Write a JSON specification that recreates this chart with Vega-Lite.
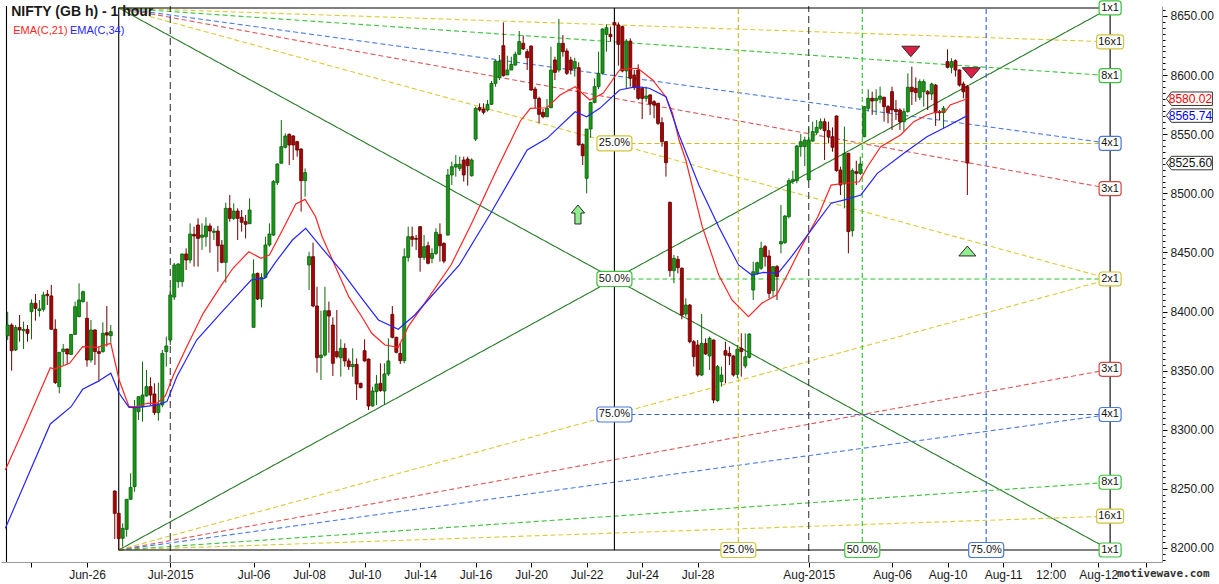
{
"$schema": "https://vega.github.io/schema/vega-lite/v6.json",
"width": 1161, "height": 556,
"autosize": {"type": "none"},
"padding": {"left": 1, "top": 6, "right": 57, "bottom": 22},
"background": "white",
"view": {"stroke": null},
"datasets": {
"candles": [
{"n":-6,"o":8379.6,"h":8399.9,"l":8375.9,"c":8388.6},{"n":-5,"o":8388.6,"h":8390,"l":8350.0,"c":8366.9},{"n":-4,"o":8367.5,"h":8388.6,"l":8366.6,"c":8386.6},{"n":-3,"o":8386.6,"h":8397.1,"l":8374.5,"c":8384.4},{"n":-2,"o":8383.8,"h":8391.4,"l":8368.3,"c":8384.9},{"n":-1,"o":8384.9,"h":8388.6,"l":8374.5,"c":8381.6},
{"n":0,"o":8399.9,"h":8410.3,"l":8376.5,"c":8407.0},{"n":1,"o":8407.0,"h":8414.9,"l":8392.3,"c":8402.7},{"n":2,"o":8400.8,"h":8409.8,"l":8395.7,"c":8402.2},{"n":3,"o":8401.9,"h":8416.8,"l":8399.9,"c":8414.0},{"n":4,"o":8414.6,"h":8418.2,"l":8405.5,"c":8413.4},{"n":5,"o":8413.2,"h":8422.5,"l":8384.4,"c":8385.0},{"n":6,"o":8385.0,"h":8393.4,"l":8338.7,"c":8339.9},
{"n":7,"o":8336.5,"h":8365.5,"l":8330.8,"c":8365.5},{"n":8,"o":8366.1,"h":8372.6,"l":8354.8,"c":8368.3},{"n":9,"o":8368.3,"h":8368.8,"l":8355.7,"c":8364.1},{"n":10,"o":8363.8,"h":8380.7,"l":8363.2,"c":8380.7},{"n":11,"o":8380.7,"h":8408.4,"l":8380.2,"c":8404.1},{"n":12,"o":8395.7,"h":8423.9,"l":8395.1,"c":8409.8},{"n":13,"o":8408.4,"h":8417.7,"l":8407.5,"c":8416.8},
{"n":14,"o":8394.3,"h":8408.4,"l":8353.4,"c":8359.0},{"n":15,"o":8359.0,"h":8392.9,"l":8356.8,"c":8384.4},{"n":16,"o":8384.4,"h":8385.0,"l":8354.8,"c":8366.1},{"n":17,"o":8366.1,"h":8370.3,"l":8340.7,"c":8364.6},{"n":18,"o":8366.1,"h":8390.9,"l":8365.2,"c":8381.6},{"n":19,"o":8382.1,"h":8404.7,"l":8370.3,"c":8380.1},{"n":20,"o":8379.6,"h":8388.6,"l":8373.7,"c":8383.0},
{"n":21,"o":8248.2,"h":8248.8,"l":8207.6,"c":8229.3},{"n":22,"o":8229.3,"h":8229.8,"l":8199.0,"c":8208.0},{"n":23,"o":8208.2,"h":8220.9,"l":8201.1,"c":8216.6},{"n":24,"o":8215.8,"h":8241.2,"l":8209.6,"c":8241.2},{"n":25,"o":8241.2,"h":8263.2,"l":8240.6,"c":8251.3},{"n":26,"o":8251.9,"h":8325.2,"l":8247.6,"c":8319.5},{"n":27,"o":8315.3,"h":8328.0,"l":8308.3,"c":8328.0},
{"n":28,"o":8319.5,"h":8357.6,"l":8306.9,"c":8329.4},{"n":29,"o":8328.6,"h":8350.6,"l":8328.0,"c":8336.5},{"n":30,"o":8336.5,"h":8344.4,"l":8321.0,"c":8329.4},{"n":31,"o":8330.3,"h":8339.3,"l":8312.5,"c":8314.5},{"n":32,"o":8314.5,"h":8339.9,"l":8307.7,"c":8321.0},{"n":33,"o":8321.0,"h":8367.5,"l":8319.0,"c":8364.6},{"n":34,"o":8366.1,"h":8378.8,"l":8353.4,"c":8370.9},
{"n":35,"o":8375.9,"h":8421.6,"l":8371.7,"c":8414.0},{"n":36,"o":8412.3,"h":8441.1,"l":8409.8,"c":8439.4},{"n":37,"o":8425.3,"h":8441,"l":8420,"c":8440.2},{"n":38,"o":8425.3,"h":8449,"l":8421,"c":8448.7},{"n":39,"o":8448.7,"h":8453.5,"l":8435.1,"c":8443.6},{"n":40,"o":8443.6,"h":8474.6,"l":8440.8,"c":8465.6},{"n":41,"o":8465.3,"h":8471.8,"l":8438.0,"c":8463.9},
{"n":42,"o":8473.2,"h":8478.8,"l":8438.0,"c":8461.9},{"n":43,"o":8462.8,"h":8474.6,"l":8452.1,"c":8464.7},{"n":44,"o":8463.3,"h":8479.7,"l":8454.9,"c":8472.4},{"n":45,"o":8472.4,"h":8474.6,"l":8449.8,"c":8468.1},{"n":46,"o":8467.0,"h":8470.4,"l":8460.5,"c":8468.1},{"n":47,"o":8468.1,"h":8472.4,"l":8433.7,"c":8455.7},{"n":48,"o":8456.3,"h":8460.5,"l":8440.8,"c":8441.6},
{"n":49,"o":8441.6,"h":8492.1,"l":8424.4,"c":8487.3},{"n":50,"o":8487.3,"h":8498.6,"l":8476.0,"c":8478.8},{"n":51,"o":8478.8,"h":8491.5,"l":8477.4,"c":8485.0},{"n":52,"o":8485.0,"h":8487.3,"l":8460.5,"c":8478.8},{"n":53,"o":8479.7,"h":8485.9,"l":8467.6,"c":8475.5},{"n":54,"o":8476.0,"h":8481.7,"l":8461.9,"c":8473.8},{"n":55,"o":8474.3,"h":8495.8,"l":8474.0,"c":8485.9},
{"n":56,"o":8386.6,"h":8444.2,"l":8386.6,"c":8431.8},{"n":57,"o":8432.3,"h":8432.9,"l":8409.8,"c":8410.6},{"n":58,"o":8410.6,"h":8432.3,"l":8403.6,"c":8428.9},{"n":59,"o":8428.9,"h":8463.3,"l":8428.1,"c":8456.3},{"n":60,"o":8456.3,"h":8474.6,"l":8454.9,"c":8465.6},{"n":61,"o":8464.7,"h":8511.3,"l":8463.9,"c":8509.9},{"n":62,"o":8509.0,"h":8525.4,"l":8507.0,"c":8524.8},
{"n":63,"o":8525.4,"h":8562.0,"l":8525.4,"c":8539.5},{"n":64,"o":8538.9,"h":8550.7,"l":8538.0,"c":8548.5},{"n":65,"o":8549.9,"h":8550.7,"l":8524.0,"c":8540.9},{"n":66,"o":8548.5,"h":8549.3,"l":8528.2,"c":8540.9},{"n":67,"o":8543.7,"h":8544.5,"l":8531.0,"c":8536.6},{"n":68,"o":8537.5,"h":8538.0,"l":8484.5,"c":8510.7},{"n":69,"o":8510.7,"h":8521.1,"l":8497.2,"c":8517.5},
{"n":70,"o":8439.4,"h":8450.6,"l":8418.2,"c":8446.4},{"n":71,"o":8446.4,"h":8458.3,"l":8403.6,"c":8404.7},{"n":72,"o":8404.7,"h":8421.0,"l":8348.3,"c":8361.0},{"n":73,"o":8361.0,"h":8400.7,"l":8342.1,"c":8363.2},{"n":74,"o":8363.2,"h":8421.0,"l":8361.8,"c":8400.7},{"n":75,"o":8400.7,"h":8408.4,"l":8365.2,"c":8396.2},{"n":76,"o":8388.6,"h":8395.1,"l":8345.5,"c":8356.2},
{"n":77,"o":8366.1,"h":8401.3,"l":8360.4,"c":8361.8},{"n":78,"o":8361.0,"h":8376.5,"l":8344.9,"c":8368.9},{"n":79,"o":8368.9,"h":8373.1,"l":8353.4,"c":8358.2},{"n":80,"o":8358.2,"h":8360.4,"l":8350.6,"c":8353.4},{"n":81,"o":8353.4,"h":8368.9,"l":8344.9,"c":8355.3},{"n":82,"o":8355.3,"h":8360.4,"l":8325.2,"c":8338.7},{"n":83,"o":8339.3,"h":8339.8,"l":8335.0,"c":8335.6},
{"n":84,"o":8366.9,"h":8376.5,"l":8357.6,"c":8358.2},{"n":85,"o":8359.8,"h":8360.3,"l":8316.7,"c":8320.1},{"n":86,"o":8320.1,"h":8336.4,"l":8319.6,"c":8332.8},{"n":87,"o":8332.2,"h":8346.3,"l":8321.0,"c":8338.7},{"n":88,"o":8339.3,"h":8356.2,"l":8332.2,"c":8333.1},{"n":89,"o":8332.8,"h":8356.2,"l":8321.0,"c":8347.2},{"n":90,"o":8347.2,"h":8377.3,"l":8345.5,"c":8358.2},
{"n":91,"o":8397.6,"h":8404.7,"l":8377.3,"c":8378.2},{"n":92,"o":8378.2,"h":8378.7,"l":8364.6,"c":8365.5},{"n":93,"o":8364.6,"h":8373.1,"l":8355.6,"c":8358.4},{"n":94,"o":8358.4,"h":8453.5,"l":8356.2,"c":8446.4},{"n":95,"o":8445.8,"h":8471.8,"l":8442.2,"c":8463.3},{"n":96,"o":8463.3,"h":8471.8,"l":8454.9,"c":8461.1},{"n":97,"o":8461.9,"h":8464.7,"l":8452.1,"c":8461.1},
{"n":98,"o":8471.8,"h":8472.3,"l":8433.7,"c":8445.8},{"n":99,"o":8445.8,"h":8464.7,"l":8443.6,"c":8454.9},{"n":100,"o":8455.7,"h":8459.1,"l":8439.9,"c":8440.8},{"n":101,"o":8445.0,"h":8453.5,"l":8440.8,"c":8449.2},{"n":102,"o":8449.2,"h":8470.4,"l":8447.8,"c":8467.0},{"n":103,"o":8465.3,"h":8474.6,"l":8442.2,"c":8455.7},{"n":104,"o":8457.7,"h":8458.5,"l":8440.8,"c":8442.7},
{"n":105,"o":8464.7,"h":8520.6,"l":8464.2,"c":8515.5},{"n":106,"o":8515.5,"h":8526.8,"l":8507.0,"c":8522.5},{"n":107,"o":8522.2,"h":8532.4,"l":8514.1,"c":8524.5},{"n":108,"o":8521.1,"h":8531.0,"l":8518.9,"c":8524.5},{"n":109,"o":8528.2,"h":8531.0,"l":8509.9,"c":8515.5},{"n":110,"o":8529.0,"h":8531.0,"l":8506.5,"c":8523.4},{"n":111,"o":8514.9,"h":8529.6,"l":8514.1,"c":8528.2},
{"n":112,"o":8545.9,"h":8573.3,"l":8544.3,"c":8571.9},{"n":113,"o":8572.5,"h":8576.1,"l":8569.1,"c":8570.5},{"n":114,"o":8571.3,"h":8576.1,"l":8566.8,"c":8568.5},{"n":115,"o":8570.5,"h":8578.9,"l":8569.1,"c":8575.3},{"n":116,"o":8575.3,"h":8595.0,"l":8574.7,"c":8593.0},{"n":117,"o":8593.0,"h":8612.8,"l":8590.2,"c":8611.9},{"n":118,"o":8597.8,"h":8617.0,"l":8595.8,"c":8611.9},
{"n":119,"o":8624.9,"h":8644.6,"l":8598.7,"c":8599.5},{"n":120,"o":8600.1,"h":8616.4,"l":8600.1,"c":8604.3},{"n":121,"o":8604.3,"h":8615.6,"l":8604.3,"c":8609.1},{"n":122,"o":8608.5,"h":8619.8,"l":8608.0,"c":8617.6},{"n":123,"o":8617.6,"h":8637.3,"l":8617.0,"c":8628.3},{"n":124,"o":8626.9,"h":8633.4,"l":8621.2,"c":8622.1},{"n":125,"o":8619.8,"h":8622.1,"l":8604.3,"c":8614.7},
{"n":126,"o":8624.6,"h":8625.1,"l":8586.6,"c":8587.4},{"n":127,"o":8588.2,"h":8590.2,"l":8571.9,"c":8580.3},{"n":128,"o":8580.3,"h":8581.8,"l":8559.2,"c":8566.8},{"n":129,"o":8568.5,"h":8571.3,"l":8563.4,"c":8564.8},{"n":130,"o":8564.8,"h":8579.8,"l":8564.3,"c":8571.9},{"n":131,"o":8572.5,"h":8624.0,"l":8571.9,"c":8604.3},{"n":132,"o":8612.8,"h":8615.6,"l":8595.8,"c":8602.3},
{"n":133,"o":8604.3,"h":8647.5,"l":8602.3,"c":8626.9},{"n":134,"o":8626.9,"h":8633.9,"l":8615.6,"c":8619.8},{"n":135,"o":8620.4,"h":8622.6,"l":8600.1,"c":8601.5},{"n":136,"o":8612.8,"h":8615.6,"l":8600.6,"c":8604.3},{"n":137,"o":8605.7,"h":8614.7,"l":8598.7,"c":8611.4},{"n":138,"o":8606.3,"h":8610.8,"l":8540.3,"c":8540.9},{"n":139,"o":8541.4,"h":8542.3,"l":8524.0,"c":8531.8},
{"n":140,"o":8512.7,"h":8554.4,"l":8500.0,"c":8554.4},{"n":141,"o":8554.4,"h":8577.4,"l":8547.1,"c":8576.9},{"n":142,"o":8576.9,"h":8597.3,"l":8576.1,"c":8590.2},{"n":143,"o":8590.2,"h":8619.8,"l":8588.2,"c":8601.5},{"n":144,"o":8601.5,"h":8639.5,"l":8600.6,"c":8639.0},{"n":145,"o":8634.5,"h":8642.9,"l":8619.8,"c":8640.1},{"n":146,"o":8634.5,"h":8641.0,"l":8628.3,"c":8632.5},
{"n":147,"o":8644.6,"h":8645.8,"l":8639.6,"c":8642.4},{"n":148,"o":8642.4,"h":8644.6,"l":8608.0,"c":8626.0},{"n":149,"o":8641.0,"h":8641.8,"l":8602.3,"c":8603.5},{"n":150,"o":8603.5,"h":8630.5,"l":8588.8,"c":8628.8},{"n":151,"o":8628.8,"h":8631.1,"l":8590.2,"c":8597.3},{"n":152,"o":8600.1,"h":8604.3,"l":8587.4,"c":8589.4},{"n":153,"o":8604.3,"h":8609.1,"l":8578.9,"c":8580.3},
{"n":154,"o":8588.8,"h":8590.2,"l":8562.8,"c":8580.3},{"n":155,"o":8580.4,"h":8590.2,"l":8577.5,"c":8582.3},{"n":156,"o":8583.2,"h":8583.7,"l":8566.3,"c":8575.6},{"n":157,"o":8577.5,"h":8578.9,"l":8563.4,"c":8574.7},{"n":158,"o":8576.1,"h":8576.6,"l":8557.8,"c":8559.2},{"n":159,"o":8559.8,"h":8564.3,"l":8539.5,"c":8543.7},{"n":160,"o":8543.7,"h":8544.2,"l":8514.1,"c":8525.9},
{"n":161,"o":8492.4,"h":8492.9,"l":8429.5,"c":8434.6},{"n":162,"o":8434.6,"h":8447.8,"l":8423.9,"c":8445.0},{"n":163,"o":8444.2,"h":8447.0,"l":8432.3,"c":8437.1},{"n":164,"o":8436.6,"h":8437.4,"l":8393.4,"c":8397.1},{"n":165,"o":8397.9,"h":8411.2,"l":8395.7,"c":8405.5},{"n":166,"o":8405.5,"h":8406.4,"l":8373.1,"c":8374.5},{"n":167,"o":8374.5,"h":8375.9,"l":8353.4,"c":8361.8},
{"n":168,"o":8371.7,"h":8375.9,"l":8344.9,"c":8346.3},{"n":169,"o":8346.3,"h":8397.9,"l":8345.5,"c":8373.1},{"n":170,"o":8373.1,"h":8377.3,"l":8363.3,"c":8364.1},{"n":171,"o":8362.4,"h":8378.8,"l":8350.6,"c":8377.3},{"n":172,"o":8375.9,"h":8376.4,"l":8322.4,"c":8325.2},{"n":173,"o":8324.6,"h":8354.8,"l":8323.8,"c":8353.4},{"n":174,"o":8340.7,"h":8353.4,"l":8336.5,"c":8346.3},
{"n":175,"o":8366.9,"h":8374.5,"l":8339.3,"c":8363.1},{"n":176,"o":8364.6,"h":8370.3,"l":8354.8,"c":8362.4},{"n":177,"o":8362.4,"h":8363.3,"l":8344.9,"c":8346.3},{"n":178,"o":8346.9,"h":8371.7,"l":8343.5,"c":8368.0},{"n":179,"o":8368.9,"h":8381.6,"l":8344.9,"c":8366.1},{"n":180,"o":8353.9,"h":8381.6,"l":8352.0,"c":8361.8},{"n":181,"o":8361.3,"h":8381.6,"l":8360.4,"c":8381.0},
{"n":182,"o":8418.2,"h":8442.2,"l":8409.8,"c":8433.7},{"n":183,"o":8432.3,"h":8442.2,"l":8430.9,"c":8441.3},{"n":184,"o":8436.6,"h":8459.1,"l":8435.2,"c":8453.5},{"n":185,"o":8454.9,"h":8456.3,"l":8438.0,"c":8446.4},{"n":186,"o":8447.0,"h":8452.1,"l":8411.2,"c":8415.4},{"n":187,"o":8417.7,"h":8438.5,"l":8412.6,"c":8438.0},{"n":188,"o":8438.0,"h":8439.4,"l":8409.8,"c":8429.5},
{"n":189,"o":8457.2,"h":8490.1,"l":8449.2,"c":8459.1},{"n":190,"o":8458.3,"h":8481.7,"l":8457.2,"c":8480.8},{"n":191,"o":8480.3,"h":8512.7,"l":8478.9,"c":8510.7},{"n":192,"o":8509.9,"h":8519.2,"l":8507.9,"c":8511.8},{"n":193,"o":8510.7,"h":8540.9,"l":8508.5,"c":8540.0},{"n":194,"o":8539.5,"h":8550.2,"l":8531.0,"c":8543.7},{"n":195,"o":8539.5,"h":8547.9,"l":8523.1,"c":8545.1},
{"n":196,"o":8511.3,"h":8555.8,"l":8509.9,"c":8545.1},{"n":197,"o":8544.2,"h":8560.6,"l":8543.7,"c":8552.2},{"n":198,"o":8551.3,"h":8562.0,"l":8549.3,"c":8555.8},{"n":199,"o":8555.0,"h":8563.4,"l":8553.6,"c":8560.6},{"n":200,"o":8560.6,"h":8563.4,"l":8528.2,"c":8553.0},{"n":201,"o":8553.0,"h":8560.6,"l":8542.3,"c":8547.9},{"n":202,"o":8547.9,"h":8555.8,"l":8535.2,"c":8538.9},
{"n":203,"o":8565.4,"h":8565.9,"l":8518.3,"c":8519.2},{"n":204,"o":8519.7,"h":8522.6,"l":8498.6,"c":8507.0},{"n":205,"o":8507.9,"h":8556.4,"l":8487.3,"c":8533.8},{"n":206,"o":8533.8,"h":8534.3,"l":8449.2,"c":8467.6},{"n":207,"o":8468.4,"h":8521.1,"l":8463.4,"c":8519.2},{"n":208,"o":8518.3,"h":8527.6,"l":8507.0,"c":8516.9},{"n":209,"o":8516.9,"h":8531.0,"l":8515.5,"c":8524.8},
{"n":210,"o":8547.9,"h":8573.8,"l":8547.4,"c":8573.3},{"n":211,"o":8571.9,"h":8588.0,"l":8569.1,"c":8580.4},{"n":212,"o":8580.4,"h":8586.0,"l":8566.3,"c":8578.1},{"n":213,"o":8578.4,"h":8588.0,"l":8566.3,"c":8580.4},{"n":214,"o":8579.5,"h":8590.2,"l":8576.1,"c":8582.3},{"n":215,"o":8581.2,"h":8581.8,"l":8560.6,"c":8573.3},{"n":216,"o":8573.3,"h":8574.7,"l":8559.2,"c":8568.2},
{"n":217,"o":8586.0,"h":8590.2,"l":8553.6,"c":8570.5},{"n":218,"o":8571.0,"h":8578.9,"l":8562.0,"c":8569.1},{"n":219,"o":8570.5,"h":8571.9,"l":8553.6,"c":8560.6},{"n":220,"o":8560.6,"h":8571.9,"l":8552.2,"c":8569.1},{"n":221,"o":8569.1,"h":8601.5,"l":8568.2,"c":8589.7},{"n":222,"o":8589.7,"h":8607.1,"l":8574.7,"c":8586.0},{"n":223,"o":8588.8,"h":8598.1,"l":8577.5,"c":8585.2},
{"n":224,"o":8581.2,"h":8596.4,"l":8578.9,"c":8594.5},{"n":225,"o":8586.0,"h":8596.4,"l":8573.3,"c":8594.5},{"n":226,"o":8586.0,"h":8587.4,"l":8570.5,"c":8584.0},{"n":227,"o":8584.0,"h":8593.6,"l":8578.9,"c":8592.5},{"n":228,"o":8591.6,"h":8592.5,"l":8557.0,"c":8568.2},{"n":229,"o":8569.1,"h":8570.5,"l":8562.0,"c":8568.2},{"n":230,"o":8568.2,"h":8573.9,"l":8555.0,"c":8571.9},
{"n":231,"o":8611.4,"h":8621.8,"l":8605.7,"c":8606.6},{"n":232,"o":8606.6,"h":8614.2,"l":8601.5,"c":8611.4},{"n":233,"o":8612.2,"h":8613.3,"l":8598.7,"c":8604.3},{"n":234,"o":8604.3,"h":8604.9,"l":8590.2,"c":8591.6},{"n":235,"o":8592.5,"h":8594.5,"l":8580.4,"c":8586.0},{"n":236,"o":8590.2,"h":8591.6,"l":8498.6,"c":8525.6}
],
"ema": [
{"series":"EMA(C,21)","n":-6.6,"p":8266.0},{"series":"EMA(C,21)","n":-1.7,"p":8302.6},{"series":"EMA(C,21)","n":4.75,"p":8352.5},{"series":"EMA(C,21)","n":5.8,"p":8351.4},{"series":"EMA(C,21)","n":9.6,"p":8356.2},{"series":"EMA(C,21)","n":12.9,"p":8370.3},{"series":"EMA(C,21)","n":16.65,"p":8369.8},{"series":"EMA(C,21)","n":20,"p":8373.1},{"series":"EMA(C,21)","n":22.1,"p":8342.1},{"series":"EMA(C,21)","n":24.6,"p":8319.5},{"series":"EMA(C,21)","n":26.65,"p":8319.5},{"series":"EMA(C,21)","n":29.15,"p":8322.4},{"series":"EMA(C,21)","n":31.65,"p":8322.4},{"series":"EMA(C,21)","n":33.75,"p":8328.6},{"series":"EMA(C,21)","n":35.8,"p":8346.3},{"series":"EMA(C,21)","n":39.15,"p":8370.3},{"series":"EMA(C,21)","n":43.3,"p":8398.5},{"series":"EMA(C,21)","n":47.9,"p":8422.4},{"series":"EMA(C,21)","n":50.8,"p":8436.6},{"series":"EMA(C,21)","n":54.8,"p":8450.6},{"series":"EMA(C,21)","n":57.9,"p":8445.0},{"series":"EMA(C,21)","n":60,"p":8447.8},{"series":"EMA(C,21)","n":63.3,"p":8469.0},{"series":"EMA(C,21)","n":66.65,"p":8491.0},{"series":"EMA(C,21)","n":69,"p":8494.9},{"series":"EMA(C,21)","n":71.65,"p":8480.2},{"series":"EMA(C,21)","n":73.3,"p":8463.3},{"series":"EMA(C,21)","n":76.65,"p":8437.9},{"series":"EMA(C,21)","n":80,"p":8412.6},{"series":"EMA(C,21)","n":83.3,"p":8395.6},{"series":"EMA(C,21)","n":85.8,"p":8381.6},{"series":"EMA(C,21)","n":89.15,"p":8371.7},{"series":"EMA(C,21)","n":92.5,"p":8369.8},{"series":"EMA(C,21)","n":95,"p":8387.2},{"series":"EMA(C,21)","n":99.6,"p":8409.2},{"series":"EMA(C,21)","n":105.8,"p":8439.4},{"series":"EMA(C,21)","n":110.8,"p":8473.2},{"series":"EMA(C,21)","n":117.5,"p":8521.2},{"series":"EMA(C,21)","n":123.3,"p":8561.2},{"series":"EMA(C,21)","n":125.8,"p":8571.9},{"series":"EMA(C,21)","n":130,"p":8572.4},{"series":"EMA(C,21)","n":133.3,"p":8583.2},{"series":"EMA(C,21)","n":137.1,"p":8590.2},{"series":"EMA(C,21)","n":140.8,"p":8578.9},{"series":"EMA(C,21)","n":144.15,"p":8584.6},{"series":"EMA(C,21)","n":148.3,"p":8604.3},{"series":"EMA(C,21)","n":150.4,"p":8605.2},{"series":"EMA(C,21)","n":152.9,"p":8605.8},{"series":"EMA(C,21)","n":156.65,"p":8595.9},{"series":"EMA(C,21)","n":160,"p":8581.5},{"series":"EMA(C,21)","n":161.65,"p":8567.7},{"series":"EMA(C,21)","n":163.3,"p":8545.1},{"series":"EMA(C,21)","n":165,"p":8528.2},{"series":"EMA(C,21)","n":166.65,"p":8505.6},{"series":"EMA(C,21)","n":169.15,"p":8471.8},{"series":"EMA(C,21)","n":173.3,"p":8430.9},{"series":"EMA(C,21)","n":176.65,"p":8409.8},{"series":"EMA(C,21)","n":180.8,"p":8395.6},{"series":"EMA(C,21)","n":184.15,"p":8407.0},{"series":"EMA(C,21)","n":187.9,"p":8414.0},{"series":"EMA(C,21)","n":190.8,"p":8432.4},{"series":"EMA(C,21)","n":194.15,"p":8454.9},{"series":"EMA(C,21)","n":198.3,"p":8480.2},{"series":"EMA(C,21)","n":201.65,"p":8507.0},{"series":"EMA(C,21)","n":205,"p":8508.5},{"series":"EMA(C,21)","n":208.75,"p":8509.8},{"series":"EMA(C,21)","n":210.8,"p":8522.5},{"series":"EMA(C,21)","n":214.15,"p":8539.4},{"series":"EMA(C,21)","n":219.15,"p":8549.3},{"series":"EMA(C,21)","n":222.5,"p":8560.6},{"series":"EMA(C,21)","n":225.8,"p":8566.3},{"series":"EMA(C,21)","n":228.3,"p":8569.0},{"series":"EMA(C,21)","n":230.4,"p":8569.0},{"series":"EMA(C,21)","n":231.65,"p":8574.7},{"series":"EMA(C,21)","n":236,"p":8580.0},
{"series":"EMA(C,34)","n":-6.6,"p":8216.6},{"series":"EMA(C,34)","n":4.75,"p":8304.9},{"series":"EMA(C,34)","n":10,"p":8319.5},{"series":"EMA(C,34)","n":12.9,"p":8334.2},{"series":"EMA(C,34)","n":16.65,"p":8340.7},{"series":"EMA(C,34)","n":20,"p":8347.8},{"series":"EMA(C,34)","n":22.1,"p":8330.9},{"series":"EMA(C,34)","n":24.6,"p":8319.0},{"series":"EMA(C,34)","n":26.65,"p":8318.7},{"series":"EMA(C,34)","n":31.65,"p":8321.0},{"series":"EMA(C,34)","n":34.15,"p":8323.8},{"series":"EMA(C,34)","n":36.65,"p":8344.9},{"series":"EMA(C,34)","n":41.65,"p":8375.9},{"series":"EMA(C,34)","n":48.3,"p":8400.7},{"series":"EMA(C,34)","n":55.4,"p":8426.7},{"series":"EMA(C,34)","n":58.75,"p":8428.1},{"series":"EMA(C,34)","n":61.65,"p":8442.2},{"series":"EMA(C,34)","n":65.8,"p":8460.5},{"series":"EMA(C,34)","n":69.15,"p":8470.4},{"series":"EMA(C,34)","n":73.3,"p":8453.5},{"series":"EMA(C,34)","n":78.3,"p":8433.7},{"series":"EMA(C,34)","n":83.3,"p":8411.2},{"series":"EMA(C,34)","n":87.5,"p":8392.9},{"series":"EMA(C,34)","n":92.5,"p":8385.0},{"series":"EMA(C,34)","n":96.65,"p":8397.1},{"series":"EMA(C,34)","n":99.6,"p":8408.3},{"series":"EMA(C,34)","n":107.9,"p":8439.4},{"series":"EMA(C,34)","n":115.8,"p":8483.1},{"series":"EMA(C,34)","n":125,"p":8536.6},{"series":"EMA(C,34)","n":130,"p":8546.5},{"series":"EMA(C,34)","n":137.1,"p":8569.0},{"series":"EMA(C,34)","n":140,"p":8564.8},{"series":"EMA(C,34)","n":143.3,"p":8571.9},{"series":"EMA(C,34)","n":148.3,"p":8587.4},{"series":"EMA(C,34)","n":152.5,"p":8590.2},{"series":"EMA(C,34)","n":155.8,"p":8588.9},{"series":"EMA(C,34)","n":160,"p":8581.7},{"series":"EMA(C,34)","n":163.3,"p":8549.3},{"series":"EMA(C,34)","n":168.3,"p":8507.0},{"series":"EMA(C,34)","n":173.3,"p":8471.8},{"series":"EMA(C,34)","n":178.3,"p":8439.4},{"series":"EMA(C,34)","n":181.65,"p":8430.9},{"series":"EMA(C,34)","n":184.6,"p":8433.2},{"series":"EMA(C,34)","n":188.3,"p":8432.4},{"series":"EMA(C,34)","n":191.65,"p":8446.4},{"series":"EMA(C,34)","n":196.65,"p":8469.0},{"series":"EMA(C,34)","n":201.65,"p":8491.6},{"series":"EMA(C,34)","n":205,"p":8494.4},{"series":"EMA(C,34)","n":209.15,"p":8498.6},{"series":"EMA(C,34)","n":213.3,"p":8516.9},{"series":"EMA(C,34)","n":220,"p":8533.9},{"series":"EMA(C,34)","n":225.8,"p":8547.9},{"series":"EMA(C,34)","n":230,"p":8555.0},{"series":"EMA(C,34)","n":236,"p":8565.7}
],
"lines": [
{"id":"t1","kind":"1x1","n":22,"p":8656.8},{"id":"t1","kind":"1x1","n":272,"p":8198.3},
{"id":"t2","kind":"2x1","n":22,"p":8656.8},{"id":"t2","kind":"2x1","n":272,"p":8427.55},
{"id":"t3","kind":"3x1","n":22,"p":8656.8},{"id":"t3","kind":"3x1","n":272,"p":8503.97},
{"id":"t4","kind":"4x1","n":22,"p":8656.8},{"id":"t4","kind":"4x1","n":272,"p":8542.18},
{"id":"t8","kind":"8x1","n":22,"p":8656.8},{"id":"t8","kind":"8x1","n":272,"p":8599.49},
{"id":"t16","kind":"16x1","n":22,"p":8656.8},{"id":"t16","kind":"16x1","n":272,"p":8628.14},
{"id":"b1","kind":"1x1","n":22,"p":8198.3},{"id":"b1","kind":"1x1","n":272,"p":8656.8},
{"id":"b2","kind":"2x1","n":22,"p":8198.3},{"id":"b2","kind":"2x1","n":272,"p":8427.55},
{"id":"b3","kind":"3x1","n":22,"p":8198.3},{"id":"b3","kind":"3x1","n":272,"p":8351.13},
{"id":"b4","kind":"4x1","n":22,"p":8198.3},{"id":"b4","kind":"4x1","n":272,"p":8312.93},
{"id":"b8","kind":"8x1","n":22,"p":8198.3},{"id":"b8","kind":"8x1","n":272,"p":8255.61},
{"id":"b16","kind":"16x1","n":22,"p":8198.3},{"id":"b16","kind":"16x1","n":272,"p":8226.96},
{"id":"h25","kind":"25%","n":147,"p":8542.18},{"id":"h25","kind":"25%","n":272,"p":8542.18},
{"id":"h50","kind":"50%","n":147,"p":8427.55},{"id":"h50","kind":"50%","n":272,"p":8427.55},
{"id":"h75","kind":"75%","n":147,"p":8312.93},{"id":"h75","kind":"75%","n":272,"p":8312.93},
{"id":"v25","kind":"25%","n":178.25,"p":8198.3},{"id":"v25","kind":"25%","n":178.25,"p":8656.8},
{"id":"v50","kind":"50%","n":209.5,"p":8198.3},{"id":"v50","kind":"50%","n":209.5,"p":8656.8},
{"id":"v75","kind":"75%","n":240.75,"p":8198.3},{"id":"v75","kind":"75%","n":240.75,"p":8656.8},
{"id":"m1","kind":"month","n":35,"p":8188.15},{"id":"m1","kind":"month","n":35,"p":8658.45},
{"id":"m2","kind":"month","n":196,"p":8188.15},{"id":"m2","kind":"month","n":196,"p":8658.45},
{"id":"bxt","kind":"box","n":22,"p":8656.8},{"id":"bxt","kind":"box","n":272,"p":8656.8},
{"id":"bxb","kind":"box","n":22,"p":8198.3},{"id":"bxb","kind":"box","n":272,"p":8198.3},
{"id":"bxl","kind":"box","n":22,"p":8198.3},{"id":"bxl","kind":"box","n":22,"p":8656.8},
{"id":"bxm","kind":"box","n":147,"p":8198.3},{"id":"bxm","kind":"box","n":147,"p":8656.8},
{"id":"bxr","kind":"box","n":272,"p":8198.3},{"id":"bxr","kind":"box","n":272,"p":8656.8},
{"id":"frame","kind":"box","n":-6.3,"p":8188.15},{"id":"frame","kind":"box","n":-6.3,"p":8658.45}
],
"labels": [
{"n":272,"p":8656.8,"label":"1x1"},{"n":272,"p":8628.14,"label":"16x1"},{"n":272,"p":8599.49,"label":"8x1"},{"n":272,"p":8542.18,"label":"4x1"},{"n":272,"p":8503.97,"label":"3x1"},{"n":272,"p":8427.55,"label":"2x1"},{"n":272,"p":8351.13,"label":"3x1"},{"n":272,"p":8312.93,"label":"4x1"},{"n":272,"p":8255.61,"label":"8x1"},{"n":272,"p":8226.96,"label":"16x1"},{"n":272,"p":8198.3,"label":"1x1"},
{"n":147,"p":8542.18,"label":"25.0%"},{"n":147,"p":8427.55,"label":"50.0%"},{"n":147,"p":8312.93,"label":"75.0%"},
{"n":178.25,"p":8198.3,"label":"25.0%"},{"n":209.5,"p":8198.3,"label":"50.0%"},{"n":240.75,"p":8198.3,"label":"75.0%"}
],
"markers": [
{"n":137.8,"p":8482.1,"type":"arrow_up"},{"n":221.75,"p":8620.0,"type":"tri_down"},{"n":237.0,"p":8601.8,"type":"tri_down"},{"n":236.0,"p":8451.2,"type":"tri_up"}
],
"tags": [
{"n":292,"p":8580.02,"label":"8580.02","who":"ema21"},{"n":292,"p":8565.74,"label":"8565.74","who":"ema34"},{"n":292,"p":8525.60,"label":"8525.60","who":"close"}
],
"heading": [
{"n":-5.1,"p":8649.6,"label":"NIFTY (GB h) - 1 hour"}
],
"legend_text": [
{"n":-4.6,"p":8637.7,"label":"EMA(C,21)","who":"ema21"},{"n":9.7,"p":8637.7,"label":"EMA(C,34)","who":"ema34"}
],
"mark_text": [
{"n":285.4,"p":8177.6,"label":"motivewave.com"}
]
},
"encoding": {
"x": {"field": "n", "type": "quantitative", "title": null,
 "scale": {"domain": [-6.425, 283.825], "nice": false, "zero": false},
 "axis": {"values": [0,14,35,56,70,84,98,112,126,140,154,168,196,217,231,245,257,269,281],
  "labelExpr": "datum.value==14?'Jun-26':datum.value==35?'Jul-2015':datum.value==56?'Jul-06':datum.value==70?'Jul-08':datum.value==84?'Jul-10':datum.value==98?'Jul-14':datum.value==112?'Jul-16':datum.value==126?'Jul-20':datum.value==140?'Jul-22':datum.value==154?'Jul-24':datum.value==168?'Jul-28':datum.value==196?'Aug-2015':datum.value==217?'Aug-06':datum.value==231?'Aug-10':datum.value==245?'Aug-11':datum.value==257?'12:00':datum.value==269?'Aug-12':''",
  "grid": false, "tickSize": 5, "tickColor": "#000", "domainColor": "#9a9a9a", "labelFont": "Liberation Sans", "labelFontSize": 12, "labelColor": "#1a1a1a", "labelPadding": 2, "labelOverlap": false, "labelBound": false, "labelFlush": false}},
"y": {"field": "p", "type": "quantitative", "title": null,
 "scale": {"domain": [8188.15, 8658.45], "nice": false, "zero": false},
 "axis": {"orient": "right", "values": [8190,8195,8200,8205,8210,8215,8220,8225,8230,8235,8240,8245,8250,8255,8260,8265,8270,8275,8280,8285,8290,8295,8300,8305,8310,8315,8320,8325,8330,8335,8340,8345,8350,8355,8360,8365,8370,8375,8380,8385,8390,8395,8400,8405,8410,8415,8420,8425,8430,8435,8440,8445,8450,8455,8460,8465,8470,8475,8480,8485,8490,8495,8500,8505,8510,8515,8520,8525,8530,8535,8540,8545,8550,8555,8560,8565,8570,8575,8580,8585,8590,8595,8600,8605,8610,8615,8620,8625,8630,8635,8640,8645,8650,8655],
  "labelExpr": "datum.value % 50 === 0 ? format(datum.value, '.2f') : ''",
  "tickSize": {"condition": {"test": "datum.value % 50 === 0", "value": 5}, "value": 3},
  "grid": false, "tickColor": "#000", "domainColor": "#9a9a9a", "labelFont": "Liberation Sans", "labelFontSize": 12, "labelColor": "#1a1a1a", "labelPadding": 3, "labelOverlap": false, "labelBound": false, "labelFlush": false, "labelAlign": "left", "labelBaseline": "middle"}}
},
"layer": [
{"data": {"name": "lines"}, "mark": {"type": "line", "strokeWidth": 1.1, "opacity": 1},
 "encoding": {
  "detail": {"field": "id"},
  "color": {"field": "kind", "type": "nominal", "legend": null, "scale": {"domain": ["1x1","2x1","3x1","4x1","8x1","16x1","25%","50%","75%","box","month"], "range": ["#267a26","#d6cb3a","#dc5a5a","#4d7ee0","#3cc23c","#d6cb3a","#d0bc14","#26c426","#3560d6","#000000","#3a3a3a"]}},
  "strokeDash": {"field": "kind", "type": "nominal", "legend": null, "scale": {"domain": ["1x1","2x1","3x1","4x1","8x1","16x1","25%","50%","75%","box","month"], "range": [[1,0],[5,3],[5,3],[5,3],[5,3],[5,3],[5,3],[5,3],[5,3],[1,0],[7,4]]}}
 }},
{"data": {"name": "candles"}, "mark": {"type": "rule", "strokeWidth": 1},
 "encoding": {
  "y": {"field": "l", "type": "quantitative", "title": null, "scale": {"domain": [8188.15, 8658.45], "nice": false, "zero": false}},
  "y2": {"field": "h"},
  "color": {"condition": {"test": "datum.c >= datum.o", "value": "#0b6a0b"}, "value": "#6e0000"}
 }},
{"data": {"name": "candles"}, "mark": {"type": "bar", "size": 3, "orient": "vertical", "strokeWidth": 0.8},
 "encoding": {
  "y": {"field": "o", "type": "quantitative", "title": null, "scale": {"domain": [8188.15, 8658.45], "nice": false, "zero": false}},
  "y2": {"field": "c"},
  "fill": {"condition": {"test": "datum.c >= datum.o", "value": "#169a16"}, "value": "#ad0000"},
  "stroke": {"condition": {"test": "datum.c >= datum.o", "value": "#0b5a0b"}, "value": "#5a0000"}
 }},
{"data": {"name": "ema"}, "mark": {"type": "line", "strokeWidth": 1.2},
 "encoding": {
  "color": {"field": "series", "type": "nominal", "legend": null, "scale": {"domain": ["EMA(C,21)","EMA(C,34)"], "range": ["#ff2424","#2424ff"]}}
 }},
{"data": {"name": "labels"}, "transform": [{"filter": "length(datum.label) == 3"}],
 "mark": {"type": "point", "shape": "M-0.73,-0.636L0.73,-0.636Q1,-0.636 1,-0.366L1,0.366Q1,0.636 0.73,0.636L-0.73,0.636Q-1,0.636 -1,0.366L-1,-0.366Q-1,-0.636 -0.73,-0.636Z", "size": 484, "fill": "white", "filled": false, "opacity": 1, "strokeWidth": 1.2},
 "encoding": {
  "stroke": {"field": "label", "type": "nominal", "legend": null, "scale": {"domain": ["1x1","2x1","3x1","4x1","8x1","16x1","25.0%","50.0%","75.0%"], "range": ["#3fc03f","#d0c43a","#d24848","#4a78d8","#3fc03f","#d0c43a","#d0c43a","#3fc03f","#4a78d8"]}}
 }},
{"data": {"name": "labels"}, "transform": [{"filter": "length(datum.label) == 4"}],
 "mark": {"type": "point", "shape": "M-0.778,-0.519L0.778,-0.519Q1,-0.519 1,-0.297L1,0.297Q1,0.519 0.778,0.519L-0.778,0.519Q-1,0.519 -1,0.297L-1,-0.297Q-1,-0.519 -0.778,-0.519Z", "size": 729, "fill": "white", "filled": false, "opacity": 1, "strokeWidth": 1.2},
 "encoding": {
  "stroke": {"field": "label", "type": "nominal", "legend": null, "scale": {"domain": ["1x1","2x1","3x1","4x1","8x1","16x1","25.0%","50.0%","75.0%"], "range": ["#3fc03f","#d0c43a","#d24848","#4a78d8","#3fc03f","#d0c43a","#d0c43a","#3fc03f","#4a78d8"]}}
 }},
{"data": {"name": "labels"}, "transform": [{"filter": "length(datum.label) == 5"}],
 "mark": {"type": "point", "shape": "M-0.829,-0.429L0.829,-0.429Q1,-0.429 1,-0.258L1,0.258Q1,0.429 0.829,0.429L-0.829,0.429Q-1,0.429 -1,0.258L-1,-0.258Q-1,-0.429 -0.829,-0.429Z", "size": 1225, "fill": "white", "filled": false, "opacity": 1, "strokeWidth": 1.2},
 "encoding": {
  "stroke": {"field": "label", "type": "nominal", "legend": null, "scale": {"domain": ["1x1","2x1","3x1","4x1","8x1","16x1","25.0%","50.0%","75.0%"], "range": ["#3fc03f","#d0c43a","#d24848","#4a78d8","#3fc03f","#d0c43a","#d0c43a","#3fc03f","#4a78d8"]}}
 }},
{"data": {"name": "labels"}, "mark": {"type": "text", "font": "Liberation Sans", "fontSize": 11, "color": "#111", "align": "center", "baseline": "middle"},
 "encoding": {"text": {"field": "label"}}},
{"data": {"name": "markers"}, "mark": {"type": "point", "filled": true, "opacity": 1, "strokeWidth": 1, "stroke": "#2a2a2a"},
 "encoding": {
  "shape": {"field": "type", "type": "nominal", "legend": null, "scale": {"domain": ["arrow_up","tri_down","tri_up"], "range": ["M0,-1L0.7,-0.15L0.32,-0.15L0.32,1L-0.32,1L-0.32,-0.15L-0.7,-0.15Z","M-1,-0.58L1,-0.58L0,0.58Z","M-1,0.58L1,0.58L0,-0.58Z"]}},
  "fill": {"field": "type", "type": "nominal", "legend": null, "scale": {"domain": ["arrow_up","tri_down","tri_up"], "range": ["#90ee90","#dc1f45","#90ee90"]}},
  "size": {"field": "type", "type": "nominal", "legend": null, "scale": {"domain": ["arrow_up","tri_down","tri_up"], "range": [361, 289, 289]}}
 }},
{"data": {"name": "tags"}, "mark": {"type": "point", "shape": "M-1,0L-0.783,-0.293L1,-0.293L1,0.293L-0.783,0.293Z", "size": 2116, "fill": "white", "filled": false, "stroke": "#333", "strokeWidth": 1, "opacity": 1}},
{"data": {"name": "tags"}, "mark": {"type": "text", "font": "Liberation Sans", "fontSize": 12, "align": "center", "baseline": "middle", "dx": 1},
 "encoding": {
  "text": {"field": "label"},
  "color": {"field": "who", "type": "nominal", "legend": null, "scale": {"domain": ["ema21","ema34","close"], "range": ["#ff0000","#0000ff","#111111"]}}
 }},
{"data": {"name": "heading"}, "mark": {"type": "text", "font": "Liberation Sans", "fontSize": 14, "fontWeight": "bold", "color": "#1a1a1a", "align": "left", "baseline": "alphabetic"},
 "encoding": {"text": {"field": "label"}}},
{"data": {"name": "legend_text"}, "mark": {"type": "text", "font": "Liberation Sans", "fontSize": 11, "align": "left", "baseline": "middle"},
 "encoding": {
  "text": {"field": "label"},
  "color": {"field": "who", "type": "nominal", "legend": null, "scale": {"domain": ["ema21","ema34"], "range": ["#ff2424","#2424ff"]}}
 }},
{"data": {"name": "mark_text"}, "mark": {"type": "text", "font": "DejaVu Sans Mono", "fontSize": 11, "fontWeight": "bold", "color": "#333", "align": "center", "baseline": "middle"},
 "encoding": {"text": {"field": "label"}}}
],
"resolve": {"scale": {"color": "independent", "stroke": "independent", "fill": "independent", "shape": "independent", "size": "independent", "strokeDash": "independent"}},
"config": {"font": "Liberation Sans"}
}
